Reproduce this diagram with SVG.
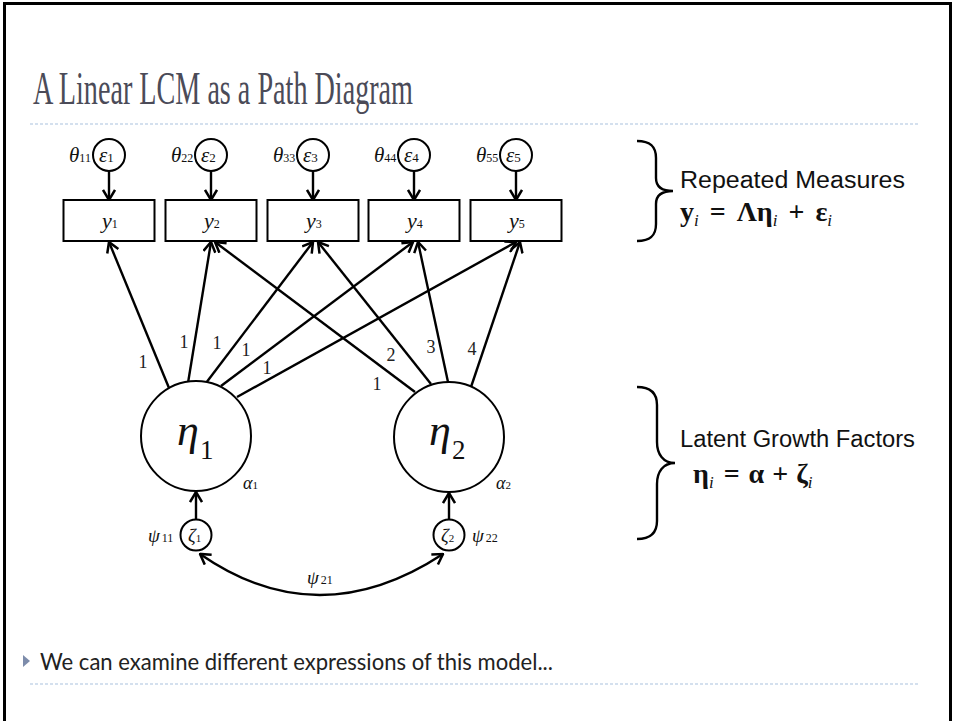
<svg xmlns="http://www.w3.org/2000/svg" width="954" height="721" viewBox="0 0 954 721">
<defs>
<marker id="arr" viewBox="0 0 12 14" refX="11" refY="7" markerWidth="12" markerHeight="14" markerUnits="userSpaceOnUse" orient="auto-start-reverse">
<path d="M1,1 L11,7 L1,13" fill="none" stroke="#000" stroke-width="2.5" stroke-linejoin="miter"/>
</marker>
<style>
.ln{stroke:#000;stroke-width:2.4;fill:none}
.ar{stroke:#000;stroke-width:2.4;fill:none;marker-end:url(#arr)}
.nd{fill:#fff;stroke:#000;stroke-width:2}
.gk{font-family:"Liberation Serif",serif;font-style:italic;fill:#111}
.sb{font-family:"Liberation Serif",serif;font-style:normal;fill:#111}
.lb{font-family:"Liberation Serif",serif;font-size:18px;fill:#222;text-anchor:middle}
.dot{stroke:#a9c2dd;stroke-width:1.2;stroke-dasharray:3 2;fill:none}
.ar2{font-family:"Liberation Sans",Arial,sans-serif;font-size:23px;fill:#111}
.eq{font-family:"Liberation Serif",serif;font-weight:bold;font-size:28px;fill:#111}
.ei{font-family:"Liberation Serif",serif;font-style:italic;font-weight:normal;font-size:17px;fill:#111}
</style>
</defs>
<rect x="0" y="0" width="954" height="721" fill="#fff"/>
<path d="M4.5,730 L4.5,3.5 L950.5,3.5 L950.5,730" fill="none" stroke="#000" stroke-width="3"/>

<g id="title">
<text x="33" y="104" font-family="Liberation Serif,serif" font-size="46" fill="#4b4b58" textLength="380" lengthAdjust="spacingAndGlyphs">A Linear LCM as a Path Diagram</text>
<line class="dot" x1="30" y1="124" x2="920" y2="124"/>
</g>

<g id="connectors">
<line class="ar" x1="109" y1="171" x2="109" y2="200"/>
<line class="ar" x1="211" y1="171" x2="211" y2="200"/>
<line class="ar" x1="313" y1="171" x2="313" y2="200"/>
<line class="ar" x1="414" y1="171" x2="414" y2="200"/>
<line class="ar" x1="516" y1="171" x2="516" y2="200"/>
<line class="ar" x1="169" y1="388" x2="109" y2="242"/>
<line class="ar" x1="188" y1="383" x2="211" y2="242"/>
<line class="ar" x1="206" y1="383" x2="313" y2="242"/>
<line class="ar" x1="221" y1="386" x2="413" y2="242"/>
<line class="ar" x1="237" y1="397" x2="516" y2="242"/>
<line class="ar" x1="415" y1="392" x2="215" y2="242"/>
<line class="ar" x1="431" y1="384" x2="318" y2="242"/>
<line class="ar" x1="448" y1="382" x2="418" y2="242"/>
<line class="ar" x1="471" y1="387" x2="520" y2="242"/>
<line class="ar" x1="196" y1="520" x2="196" y2="492"/>
<line class="ar" x1="449" y1="520" x2="449" y2="493"/>
<path class="ln" d="M200,554 Q318,636 443,554" marker-start="url(#arr)" marker-end="url(#arr)"/>
<text class="lb" x="143" y="368">1</text>
<text class="lb" x="184" y="348">1</text>
<text class="lb" x="217" y="349">1</text>
<text class="lb" x="246" y="356">1</text>
<text class="lb" x="267" y="374">1</text>
<text class="lb" x="377" y="390">1</text>
<text class="lb" x="391" y="361">2</text>
<text class="lb" x="431" y="353">3</text>
<text class="lb" x="472" y="355">4</text>
<text x="307" y="584"><tspan class="gk" font-size="19">ψ</tspan><tspan class="sb" font-size="12" dx="2">21</tspan></text>
</g>

<g id="e1"><circle class="nd" cx="109" cy="155" r="16"/><text x="99" y="162"><tspan class="gk" font-size="21">ε</tspan><tspan class="sb" font-size="13">1</tspan></text><text x="69" y="162"><tspan class="gk" font-size="21">θ</tspan><tspan class="sb" font-size="12">11</tspan></text></g>
<g id="e2"><circle class="nd" cx="211" cy="155" r="16"/><text x="201" y="162"><tspan class="gk" font-size="21">ε</tspan><tspan class="sb" font-size="13">2</tspan></text><text x="171" y="162"><tspan class="gk" font-size="21">θ</tspan><tspan class="sb" font-size="12">22</tspan></text></g>
<g id="e3"><circle class="nd" cx="313" cy="155" r="16"/><text x="303" y="162"><tspan class="gk" font-size="21">ε</tspan><tspan class="sb" font-size="13">3</tspan></text><text x="273" y="162"><tspan class="gk" font-size="21">θ</tspan><tspan class="sb" font-size="12">33</tspan></text></g>
<g id="e4"><circle class="nd" cx="414" cy="155" r="16"/><text x="404" y="162"><tspan class="gk" font-size="21">ε</tspan><tspan class="sb" font-size="13">4</tspan></text><text x="374" y="162"><tspan class="gk" font-size="21">θ</tspan><tspan class="sb" font-size="12">44</tspan></text></g>
<g id="e5"><circle class="nd" cx="516" cy="155" r="16"/><text x="506" y="162"><tspan class="gk" font-size="21">ε</tspan><tspan class="sb" font-size="13">5</tspan></text><text x="476" y="162"><tspan class="gk" font-size="21">θ</tspan><tspan class="sb" font-size="12">55</tspan></text></g>

<g id="y1"><rect class="nd" x="63.5" y="200" width="91" height="41"/><text x="102" y="228"><tspan class="gk" font-size="22">y</tspan><tspan class="sb" font-size="12">1</tspan></text></g>
<g id="y2"><rect class="nd" x="165.5" y="200" width="91" height="41"/><text x="204" y="228"><tspan class="gk" font-size="22">y</tspan><tspan class="sb" font-size="12">2</tspan></text></g>
<g id="y3"><rect class="nd" x="267.5" y="200" width="91" height="41"/><text x="306" y="228"><tspan class="gk" font-size="22">y</tspan><tspan class="sb" font-size="12">3</tspan></text></g>
<g id="y4"><rect class="nd" x="368.5" y="200" width="91" height="41"/><text x="407" y="228"><tspan class="gk" font-size="22">y</tspan><tspan class="sb" font-size="12">4</tspan></text></g>
<g id="y5"><rect class="nd" x="470.5" y="200" width="91" height="41"/><text x="509" y="228"><tspan class="gk" font-size="22">y</tspan><tspan class="sb" font-size="12">5</tspan></text></g>

<g id="eta1"><circle class="nd" cx="196" cy="436" r="55"/><text x="177" y="445" class="gk" font-size="44">η</text><text x="200" y="459" class="sb" font-size="27">1</text><text x="243" y="489"><tspan class="gk" font-size="18">α</tspan><tspan class="sb" font-size="11">1</tspan></text></g>
<g id="eta2"><circle class="nd" cx="449" cy="437" r="55"/><text x="429" y="445" class="gk" font-size="44">η</text><text x="452" y="459" class="sb" font-size="27">2</text><text x="496" y="489"><tspan class="gk" font-size="18">α</tspan><tspan class="sb" font-size="11">2</tspan></text></g>

<g id="z1"><circle class="nd" cx="196" cy="535" r="15.5"/><text x="188" y="542"><tspan class="gk" font-size="19">ζ</tspan><tspan class="sb" font-size="11">1</tspan></text><text x="148" y="542"><tspan class="gk" font-size="19">ψ</tspan><tspan class="sb" font-size="12" dx="2">11</tspan></text></g>
<g id="z2"><circle class="nd" cx="449" cy="535" r="15.5"/><text x="441" y="542"><tspan class="gk" font-size="19">ζ</tspan><tspan class="sb" font-size="11">2</tspan></text><text x="472" y="542"><tspan class="gk" font-size="19">ψ</tspan><tspan class="sb" font-size="12" dx="2">22</tspan></text></g>

<g id="brace1">
<path class="ln" d="M637,141 C651,141 656,147 656,158 L656,178 C656,187 662,191 673,191 C662,191 656,195 656,204 L656,224 C656,235 651,241 637,241"/>
<text class="ar2" x="680" y="188" textLength="225" lengthAdjust="spacingAndGlyphs">Repeated Measures</text>
<text x="680" y="221"><tspan class="eq">y</tspan><tspan class="ei" dy="5">i</tspan><tspan class="eq" dy="-5" dx="11">=</tspan><tspan class="eq" dx="11">Λη</tspan><tspan class="ei" dy="5">i</tspan><tspan class="eq" dy="-5" dx="11">+</tspan><tspan class="eq" dx="11">ε</tspan><tspan class="ei" dy="5">i</tspan></text>
</g>

<g id="brace2">
<path class="ln" d="M637,387 C651,387 657,393 657,405 L657,442 C657,454 663,463 675,463 C663,463 657,472 657,484 L657,521 C657,533 651,539 637,539"/>
<text class="ar2" x="680" y="447" textLength="235" lengthAdjust="spacingAndGlyphs">Latent Growth Factors</text>
<text x="693" y="483"><tspan class="eq">η</tspan><tspan class="ei" dy="5">i</tspan><tspan class="eq" dy="-5" dx="10">=</tspan><tspan class="eq" dx="9">α</tspan><tspan class="eq" dx="8">+</tspan><tspan class="eq" dx="8">ζ</tspan><tspan class="ei" dy="5">i</tspan></text>
</g>

<g id="bullet">
<path d="M23,655 L30,661 L23,667 Z" fill="#7d8cab"/>
<text x="40" y="670" font-family="Lato,'Open Sans',sans-serif" font-size="24" fill="#222" textLength="513" lengthAdjust="spacingAndGlyphs">We can examine different expressions of this model...</text>
<line class="dot" x1="30" y1="684" x2="920" y2="684"/>
</g>
</svg>
